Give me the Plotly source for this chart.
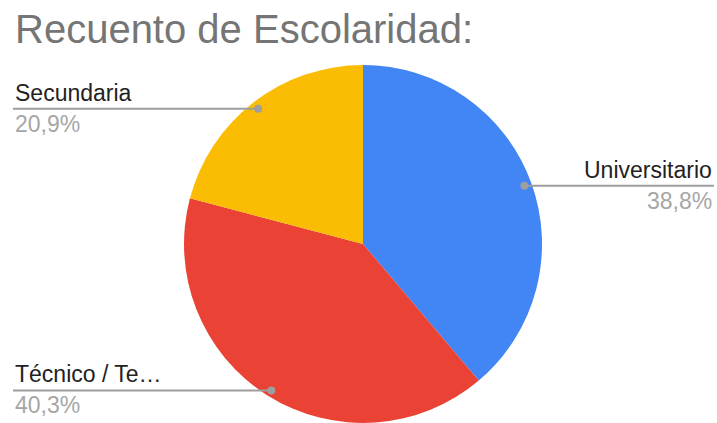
import numpy as np
import plotly.graph_objects as go

# data (counts per schooling level, read back from the percentages)
labels = ['Universitario', 'Técnico / Te…', 'Secundaria']
counts = [52, 54, 28]
colors = ['#4285F4', '#EA4335', '#FBBC04']
title_text = 'Recuento de Escolaridad:'

W, H = 717, 423
cx, cy, R = 363, 245, 180   # pie centre / radius in px from the top-left

total = sum(counts)
shares = [c / total for c in counts]
pct_text = [f'{s*100:.1f}'.replace('.', ',') + '%' for s in shares]

fig = go.Figure()

# radius = half the domain height, so let the domain run slightly under the bottom edge
fig.add_trace(go.Pie(
    labels=labels, values=counts, sort=False, direction='clockwise', rotation=0,
    marker=dict(colors=colors, line=dict(width=0)),
    textinfo='none', hoverinfo='skip', showlegend=False,
    domain=dict(x=[(cx - R) / W, (cx + R) / W], y=[0, (H - cy + R) / H]),
))

# leader dots and lines at each slice's middle angle (shapes so they sit above the pie)
font = 'Liberation Sans, Arial, sans-serif'
shapes = []
start = 0.0
for lab, s, pct in zip(labels, shares, pct_text):
    mid = (start + s / 2) * 2 * np.pi
    start += s
    dx = 0.955 * R * np.sin(mid)
    dy = 0.955 * R * np.cos(mid)
    px, py = cx + dx, cy - dy
    right = dx > 0
    end = 714 if right else 13
    shapes.append(dict(type='line', xref='x', yref='y', layer='above',
                       x0=px, x1=end, y0=py, y1=py,
                       line=dict(color='#9e9e9e', width=2)))
    shapes.append(dict(type='circle', xref='x', yref='y', layer='above',
                       x0=px - 4, x1=px + 4, y0=py - 4, y1=py + 4,
                       fillcolor='#9e9e9e', line=dict(width=0)))
    anchor = 'right' if right else 'left'
    fig.add_annotation(x=end, y=py - 1, text=lab, showarrow=False,
                       xanchor=anchor, yanchor='bottom',
                       font=dict(family=font, size=23, color='#222222'))
    fig.add_annotation(x=end, y=py, text=pct, showarrow=False,
                       xanchor=anchor, yanchor='top',
                       font=dict(family=font, size=23, color='#a6a6a6'))

fig.add_annotation(x=13, y=5, text=title_text, showarrow=False,
                   xanchor='left', yanchor='top',
                   font=dict(family=font, size=40, color='#757575'))

fig.update_layout(
    width=W, height=H, margin=dict(l=0, r=0, t=0, b=0),
    paper_bgcolor='white', plot_bgcolor='rgba(0,0,0,0)',
    xaxis=dict(range=[0, W], visible=False, fixedrange=True),
    yaxis=dict(range=[H, 0], visible=False, fixedrange=True),
    shapes=shapes,
)

# drop the browser's default 8px body margin so the figure fills the window
fig.write_html('out.html', config={'displayModeBar': False},
               post_script="document.body.style.margin='0';document.body.style.overflow='hidden';")
